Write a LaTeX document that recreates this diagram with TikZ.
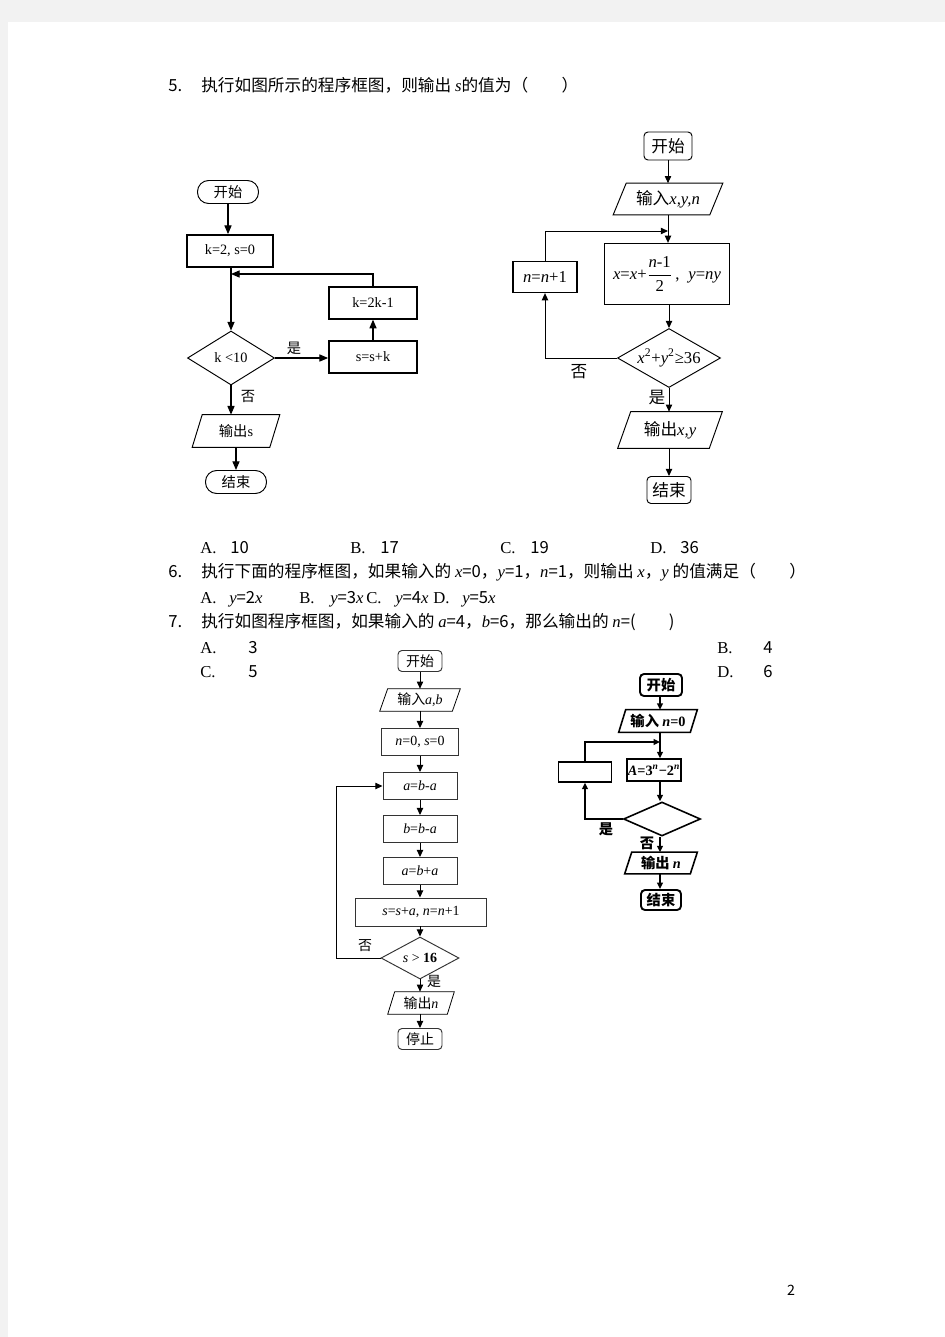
\documentclass[tikz,border=0pt]{standalone}
\usepackage{fontspec}
\setmainfont{Noto Sans CJK SC}
\newfontfamily\tm{Liberation Serif}
\usetikzlibrary{shapes.geometric,arrows.meta}
\newcommand\varit[1]{{\tm\itshape #1}}
\newdimen\PX \PX=0.63pt
\definecolor{pagegray}{RGB}{242,242,242}
\newcommand\fsMain{\fontsize{10.5}{12}\selectfont}
\newcommand\fsA{\fontsize{9}{10}\selectfont}
\newcommand\fsB{\fontsize{10.5}{12}\selectfont}
\newcommand\fsC{\fontsize{8.8}{10}\selectfont}
\newcommand\fsD{\fontsize{9}{10}\selectfont\bfseries}
\newcommand\drawpara[3]{\draw[line width=#3] ([xshift=#2*0.63pt]#1.north west) -- (#1.north east) -- ([xshift=-#2*0.63pt]#1.south east) -- (#1.south west) -- cycle;}
\tikzset{
  txt/.style={anchor=base west, inner sep=0pt, font=\fsMain},
  sz/.style 2 args={minimum width=#1\PX, minimum height=#2\PX},
  rbox/.style={draw, rectangle, inner sep=0pt, line width=0.6pt},
  term/.style={rbox, rounded corners=2.5pt},
  stad/.style={rbox, rounded corners=7pt},
  pnode/.style={rectangle, inner sep=0pt},
  dia/.style={draw, diamond, inner sep=0pt, line width=0.6pt},
  lbl/.style={inner sep=0pt},
  conn/.style={line width=0.6pt, -{Triangle[length=4.5pt,width=4pt]}},
  connA/.style={line width=0.7pt, -{Triangle[length=5.5pt,width=4.5pt]}},
  connD/.style={line width=1pt, -{Triangle[length=4pt,width=3.6pt]}},
}
\begin{document}
\begin{tikzpicture}[x=0.63pt,y=-0.63pt]
\fill[pagegray] (0,0) rectangle (945,1337);
\fill[white] (8,22) rectangle (945,1337);
\useasboundingbox (0,0) rectangle (945,1337);

% ---------- question texts ----------
\node[txt] (q5n) at (168,91) {5.};
\node[txt] (q5) at (201,91) {执行如图所示的程序框图，则输出 \varit{s}的值为（\hspace{2em}）};
\node[txt] (o5a) at (200,553) {\tm A.};
\node[txt] (o5av) at (230,553) {10};
\node[txt] (o5b) at (350,553) {\tm B.};
\node[txt] (o5bv) at (380,553) {17};
\node[txt] (o5c) at (500,553) {\tm C.};
\node[txt] (o5cv) at (530,553) {19};
\node[txt] (o5d) at (650,553) {\tm D.};
\node[txt] (o5dv) at (680,553) {36};

\node[txt] (q6n) at (168,577) {6.};
\node[txt] (q6) at (201,577) {执行下面的程序框图，如果输入的 \varit{x}=0，\varit{y}=1，\varit{n}=1，则输出 \varit{x}，\varit{y} 的值满足（\hspace{2em}）};
\node[txt] (o6a) at (200,603) {\tm A.};
\node[txt] (o6av) at (229,603) {\varit{y}=2\varit{x}};
\node[txt] (o6b) at (299,603) {\tm B.};
\node[txt] (o6bv) at (330,603) {\varit{y}=3\varit{x}};
\node[txt] (o6c) at (366,603) {\tm C.};
\node[txt] (o6cv) at (395,603) {\varit{y}=4\varit{x}};
\node[txt] (o6d) at (433,603) {\tm D.};
\node[txt] (o6dv) at (462,603) {\varit{y}=5\varit{x}};

\node[txt] (q7n) at (168,627) {7.};
\node[txt] (q7) at (201,627) {执行如图程序框图，如果输入的 \varit{a}=4，\varit{b}=6，那么输出的 \varit{n}=(\hspace{2em})};
\node[txt] (o7a) at (200,653) {\tm A.};
\node[txt] (o7av) at (248,653) {3};
\node[txt] (o7b) at (717,653) {\tm B.};
\node[txt] (o7bv) at (763,653) {4};
\node[txt] (o7c) at (200,677) {\tm C.};
\node[txt] (o7cv) at (248,677) {5};
\node[txt] (o7d) at (717,677) {\tm D.};
\node[txt] (o7dv) at (763,677) {6};

\node[inner sep=0pt, font=\fontsize{9}{10}\selectfont] (pg) at (791,1290) {2};

% ---------- flowchart 1 ----------
\node[stad, sz={61}{23}, font=\fsA] (a1) at (228,192) {开始};
\node[rbox, line width=1.1pt, sz={86}{32}, font=\fsA\tm] (a2) at (230,251) {k=2, s=0};
\node[dia, aspect=1.6, sz={87}{54}, font=\fsA\tm] (a3) at (231,358) {k <10};
\node[rbox, line width=1.1pt, sz={88}{32}, font=\fsA\tm] (a4) at (373,357) {s=s+k};
\node[rbox, line width=0.8pt, sz={88}{32}, font=\fsA\tm] (a5) at (373,303) {k=2k-1};
\node[pnode, sz={87}{32}, font=\fsA] (a6) at (236,431) {输出{\tm s}};
\drawpara{a6}{10}{0.6pt}
\node[stad, sz={61}{23}, font=\fsA] (a7) at (236,482) {结束};
\coordinate (a2j) at (231,274);
\draw[connA] (a1.south) -- (a1.south |- a2.north);
\draw[connA] (a2.south -| a3.north) -- (a3.north);
\draw[connA] (a5.north) |- (a2j);
\draw[connA] (a3.east) -- (a3.east -| a4.west);
\draw[connA] (a4.north) -- (a5.south);
\draw[connA] (a3.south) -- (a3.south |- a6.north);
\draw[connA] (a6.south) -- (a7.north);
\node[lbl, font=\fsA] (a3yes) at (294,348) {是};
\node[lbl, font=\fsA] (a3no) at (248,396) {否};

% ---------- flowchart 2 ----------
\node[term, sz={48}{28}, font=\fsB] (b1) at (668,146) {开始};
\node[pnode, sz={109}{31}, font=\fsB] (b2) at (668,199) {输入\varit{x,y,n}};
\drawpara{b2}{13}{0.6pt}
\node[rbox, line width=0.8pt, sz={125}{61}, font=\fsB\tm] (b3) at (667,274) {\varit{x}=\varit{x}+\(\displaystyle\frac{\hbox{\varit{n}-1}}{\hbox{2}}\)\,,\; \varit{y}=\varit{ny}};
\node[dia, aspect=1.75, sz={103}{59}, font=\fsB\tm] (b4) at (669,358) {\varit{x}\textsuperscript{2}+\varit{y}\textsuperscript{2}≥36};
\node[rbox, line width=0.8pt, sz={64}{31}, font=\fsB\tm] (b5) at (545,277) {\varit{n}=\varit{n}+1};
\node[pnode, sz={104}{36}, font=\fsB] (b6) at (670,430) {输出\varit{x,y}};
\drawpara{b6}{13}{0.6pt}
\node[term, sz={44}{27}, font=\fsB] (b7) at (669,490) {结束};
\coordinate (b3j) at (668,231);
\draw[conn] (b1.south) -- (b1.south |- b2.north);
\draw[conn] (b2.south) -- (b2.south |- b3.north);
\draw[conn] (b3.south -| b4.north) -- (b4.north);
\draw[conn] (b4.west) -| (b5.south);
\draw[conn] (b5.north) |- (b3j);
\draw[conn] (b4.south) -- (b4.south |- b6.north);
\draw[conn] (b6.south -| b7.north) -- (b7.north);
\node[lbl, font=\fsB] (b4no) at (579,372) {否};
\node[lbl, font=\fsB] (b4yes) at (657,398) {是};

% ---------- flowchart 3 ----------
\begin{scope}[every node/.append style={draw=black!80}]
\node[term, sz={44}{21}, font=\fsC] (c1) at (420,661) {开始};
\node[rbox, sz={77}{27}, font=\fsC\tm] (c3) at (420,742) {\varit{n}=0, \varit{s}=0};
\node[rbox, sz={74}{27}, font=\fsC\tm] (c4) at (420,786) {\varit{a}=\varit{b}-\varit{a}};
\node[rbox, sz={74}{27}, font=\fsC\tm] (c5) at (420,829) {\varit{b}=\varit{b}-\varit{a}};
\node[rbox, sz={74}{27}, font=\fsC\tm] (c6) at (420,871) {\varit{a}=\varit{b}+\varit{a}};
\node[rbox, sz={131}{28}, font=\fsC\tm] (c7) at (421,912) {\varit{s}=\varit{s}+\varit{a}, \varit{n}=\varit{n}+1};
\node[dia, aspect=1.86, sz={78}{42}, font=\fsC\tm] (c8) at (420,958) {\varit{s} > \textbf{16}};
\node[term, sz={44}{21}, font=\fsC] (c10) at (420,1039) {停止};
\end{scope}
\node[pnode, sz={80}{22}, font=\fsC] (c2) at (420,700) {输入\varit{a,b}};
\drawpara{c2}{8}{0.5pt}
\node[pnode, sz={66}{22}, font=\fsC] (c9) at (421,1003) {输出\varit{n}};
\drawpara{c9}{7}{0.5pt}
\coordinate (c8l) at (336,958);
\draw[conn] (c1.south -| c2.north) -- (c2.north);
\draw[conn] (c2.south) -- (c3.north);
\draw[conn] (c3.south) -- (c4.north);
\draw[conn] (c4.south) -- (c5.north);
\draw[conn] (c5.south) -- (c6.north);
\draw[conn] (c6.south) -- (c7.north -| c6.south);
\draw[conn] (c7.south -| c8.north) -- (c8.north);
\draw[conn] (c8.south) -- (c8.south |- c9.north);
\draw[conn] (c9.south -| c10.north) -- (c10.north);
\draw[conn] (c8.west) -- (c8l) |- (c4.west);
\node[lbl, font=\fsC] (c8no) at (365,946) {否};
\node[lbl, font=\fsC] (c8yes) at (434,981) {是};

% ---------- flowchart 4 ----------
\node[term, line width=1.2pt, sz={42}{22}, font=\fsD] (d1) at (661,685) {开始};
\node[pnode, sz={78}{22}, font=\fsD] (d2) at (658,721) {输入 {\tm\itshape n}{\tm =0}};
\drawpara{d2}{7}{1pt}
\node[rbox, line width=1pt, sz={54}{22}, font=\fsD\tm] (d3) at (654,770) {\varit{A}=3\textsuperscript{\itshape n}−2\textsuperscript{\itshape n}};
\node[dia, line width=1pt, aspect=2.26, sz={77}{34}] (d4) at (662,819) {};
\node[rbox, line width=1pt, sz={53}{20}] (d5) at (585,772) {};
\node[pnode, sz={72}{21}, font=\fsD] (d6) at (661,863) {输出 \varit{n}};
\drawpara{d6}{7}{1pt}
\node[term, line width=1.2pt, sz={40}{20}, font=\fsD] (d7) at (661,900) {结束};
\coordinate (dcol) at (660,0);
\coordinate (dj) at (660,742);
\draw[connD] (d1.south -| dcol) -- (d2.north -| dcol);
\draw[connD] (d2.south -| dcol) -- (d3.north -| dcol);
\draw[connD] (d3.south -| dcol) -- (d4.north -| dcol);
\draw[connD] (d4.west) -| (d5.south);
\draw[connD] (d5.north) |- (dj);
\draw[connD] (d4.south -| dcol) -- (d6.north -| dcol);
\draw[connD] (d6.south -| dcol) -- (d7.north -| dcol);
\node[lbl, font=\fsD] (d4yes) at (606,829) {是};
\node[lbl, font=\fsD] (d4no) at (647,843) {否};
\end{tikzpicture}
\end{document}
